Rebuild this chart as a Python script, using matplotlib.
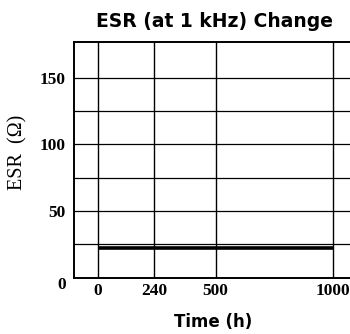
import matplotlib
matplotlib.use("Agg")
import matplotlib.pyplot as plt
import matplotlib.transforms as mtransforms

# data
time_h = [0, 240, 500, 1000]
esr_ohm = [22.5, 22.5, 22.5, 22.5]

x_grid = [0, 240, 500, 1000]
y_grid = [25, 50, 75, 100, 125, 150]
y_ticks = [0, 50, 100, 150]

SERIF = "Liberation Serif"
SANS = "DejaVu Sans"

fig = plt.figure(figsize=(3.5, 3.34), dpi=100)
ax = fig.add_axes([0.2114, 0.1686, 0.7886, 0.7048])

for xv in x_grid:
    ax.axvline(xv, color="black", lw=1.0, zorder=1)
for yv in y_grid:
    ax.axhline(yv, color="black", lw=0.9, zorder=1)

ax.plot(time_h, esr_ohm, color="black", lw=2.6, zorder=3, solid_capstyle="butt")

ax.set_xlim(-102, 1072)
ax.set_ylim(0, 176.5)

ax.set_xticks(x_grid)
ax.set_xticklabels([str(v) for v in x_grid], fontfamily=SERIF, fontweight="bold", fontsize=12.5)
ax.set_yticks(y_ticks)
ax.set_yticklabels([str(v) for v in y_ticks], fontfamily=SERIF, fontweight="bold", fontsize=12.5)
ax.tick_params(axis="x", length=0, pad=4)
ax.tick_params(axis="y", length=0, pad=6)

# the zero label sits a little lower in the reference
lbl0 = ax.get_yticklabels()[0]
lbl0.set_transform(lbl0.get_transform() + mtransforms.ScaledTranslation(0, -4 / 72, fig.dpi_scale_trans))

for side in ["left", "bottom", "top"]:
    ax.spines[side].set_linewidth(1.4)
ax.spines["right"].set_visible(False)

fig.text(0.614, 0.935, "ESR (at 1 kHz) Change", ha="center", va="center",
         fontfamily=SANS, fontweight="bold", fontsize=13.5)
fig.text(0.608, 0.036, "Time (h)", ha="center", va="center",
         fontfamily=SANS, fontweight="bold", fontsize=12)
fig.text(0.052, 0.545, "ESR  (Ω)", ha="center", va="center", rotation=90,
         fontfamily=SERIF, fontsize=14.5)

fig.savefig("out.png", dpi=100)
